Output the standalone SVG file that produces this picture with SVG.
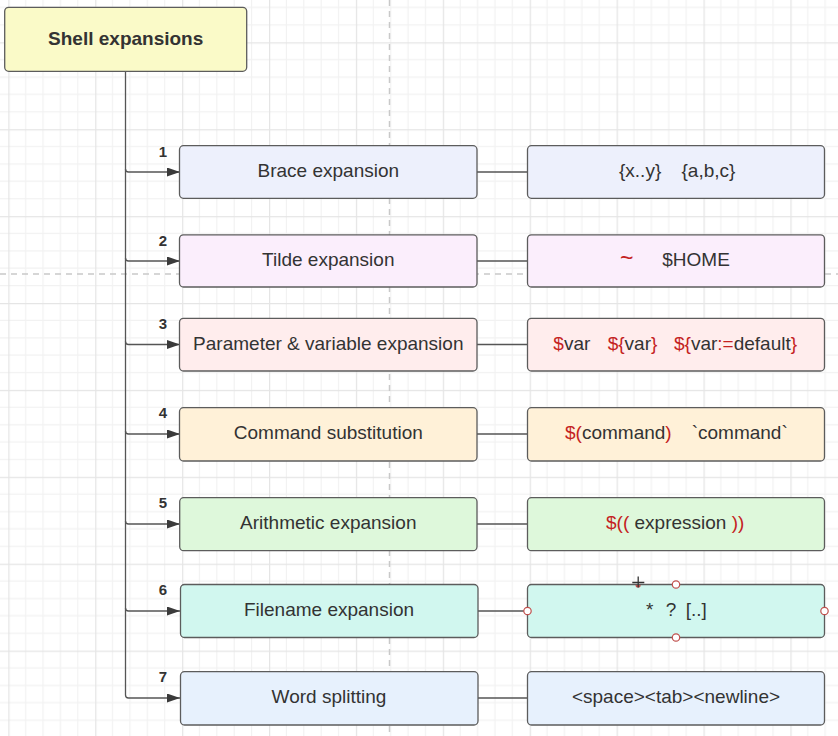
<svg xmlns="http://www.w3.org/2000/svg" width="838" height="736" viewBox="0 0 838 736">
<defs>
<pattern id="grid" patternUnits="userSpaceOnUse" x="8.3" y="42.3" width="86.9" height="86.9">
<path d="M17.38 0V86.9M34.76 0V86.9M52.14 0V86.9M69.52 0V86.9M0 17.38H86.9M0 34.76H86.9M0 52.14H86.9M0 69.52H86.9" stroke="#f2f2f2" stroke-width="1.2" fill="none"/>
<path d="M0.6 0V86.9M0 0.6H86.9" stroke="#e5e5e5" stroke-width="1.3" fill="none"/>
</pattern>
<marker id="arr" viewBox="0 0 13 9" refX="13" refY="4.5" markerWidth="13" markerHeight="9" markerUnits="userSpaceOnUse" orient="auto">
<path d="M0 0L13 4.5L0 9Z" fill="#3a3a3a"/>
</marker>
</defs>
<style>
.box{stroke:#5c5c5c;stroke-width:1.3}
.t{font-family:"Liberation Sans",Arial,sans-serif;font-size:19px;fill:#333}
.c{text-anchor:middle}
.r{fill:#c42222}
.n{font-family:"Liberation Sans",Arial,sans-serif;font-size:15px;font-weight:bold;fill:#333;text-anchor:middle}
.ln{stroke:#555;stroke-width:1.3;fill:none}
.dash{stroke:#c9c9c9;stroke-width:1.5;stroke-dasharray:6 5;fill:none}
.h{fill:#fff;stroke:#c0504d;stroke-width:1.2}
</style>
<rect width="838" height="736" fill="#fff"/>
<rect width="838" height="736" fill="url(#grid)"/>
<path class="dash" d="M389.5 0V736"/>
<path class="dash" d="M0 274H838"/>

<g id="connectors">
<path class="ln" d="M125.5 71.3V695a3 3 0 0 0 3 3H180" marker-end="url(#arr)"/>
<path class="ln" d="M125.5 169a3 3 0 0 0 3 3H180" marker-end="url(#arr)"/>
<path class="ln" d="M125.5 258a3 3 0 0 0 3 3H180" marker-end="url(#arr)"/>
<path class="ln" d="M125.5 341.5a3 3 0 0 0 3 3H180" marker-end="url(#arr)"/>
<path class="ln" d="M125.5 431a3 3 0 0 0 3 3H180" marker-end="url(#arr)"/>
<path class="ln" d="M125.5 521a3 3 0 0 0 3 3H180" marker-end="url(#arr)"/>
<path class="ln" d="M125.5 608a3 3 0 0 0 3 3H180" marker-end="url(#arr)"/>
<path class="ln" d="M477 172H528M477 261H528M477 344.5H528M477 434H528M477 524H528M477 611H528M477 698H528"/>
<text class="n" x="163" y="156.5">1</text>
<text class="n" x="163" y="245.5">2</text>
<text class="n" x="163" y="329">3</text>
<text class="n" x="163" y="418">4</text>
<text class="n" x="163" y="507.5">5</text>
<text class="n" x="163" y="595">6</text>
<text class="n" x="163" y="682">7</text>
</g>

<g id="title">
<rect class="box" x="4.7" y="7.3" width="242" height="64" rx="4" fill="#fafac8"/>
<text class="t c" x="125.7" y="45" font-weight="bold">Shell expansions</text>
</g>

<g id="brace">
<rect class="box" x="179.5" y="145.7" width="297.5" height="52.6" rx="4" fill="#edf0fc"/>
<text class="t c" x="328.3" y="177">Brace expansion</text>
</g>
<g id="brace-ex">
<rect class="box" x="527.5" y="145.7" width="297" height="52.6" rx="4" fill="#edf0fc"/>
<text class="t" y="177"><tspan x="619">{x..y}</tspan><tspan x="681.5">{a,b,c}</tspan></text>
</g>

<g id="tilde">
<rect class="box" x="179.5" y="234.8" width="297.5" height="52.2" rx="4" fill="#fbeefc"/>
<text class="t c" x="328.3" y="266">Tilde expansion</text>
</g>
<g id="tilde-ex">
<rect class="box" x="527.5" y="234.8" width="297" height="52.2" rx="4" fill="#fbeefc"/>
<text class="t" y="266"><tspan class="r" x="620" font-size="23px">~</tspan><tspan x="662.3">$HOME</tspan></text>
</g>

<g id="param">
<rect class="box" x="179.5" y="318.3" width="297.5" height="52.7" rx="4" fill="#ffeded"/>
<text class="t c" x="328.3" y="349.5">Parameter &amp; variable expansion</text>
</g>
<g id="param-ex">
<rect class="box" x="527.5" y="318.3" width="297" height="52.7" rx="4" fill="#ffeded"/>
<text class="t" y="349.5"><tspan x="553.3"><tspan class="r">$</tspan>var</tspan><tspan x="607.7"><tspan class="r">${</tspan>var<tspan class="r">}</tspan></tspan><tspan x="674"><tspan class="r">${</tspan>var<tspan class="r">:=</tspan>default<tspan class="r">}</tspan></tspan></text>
</g>

<g id="cmd">
<rect class="box" x="179.5" y="407.7" width="297.5" height="53.3" rx="4" fill="#fff1d8"/>
<text class="t c" x="328.3" y="439">Command substitution</text>
</g>
<g id="cmd-ex">
<rect class="box" x="527.5" y="407.7" width="297" height="53.3" rx="4" fill="#fff1d8"/>
<text class="t" y="439"><tspan x="565"><tspan class="r">$(</tspan>command<tspan class="r">)</tspan></tspan><tspan x="691.7">`command`</tspan></text>
</g>

<g id="arith">
<rect class="box" x="179.7" y="497.7" width="297.3" height="53" rx="4" fill="#def8db"/>
<text class="t c" x="328.3" y="529">Arithmetic expansion</text>
</g>
<g id="arith-ex">
<rect class="box" x="527.5" y="497.7" width="297" height="53" rx="4" fill="#def8db"/>
<text class="t" x="606" y="529"><tspan class="r">$((</tspan> expression <tspan class="r">))</tspan></text>
</g>

<g id="filename">
<rect class="box" x="180.5" y="584.5" width="297.5" height="53" rx="4" fill="#d1f7ef"/>
<text class="t c" x="329" y="616">Filename expansion</text>
</g>
<g id="filename-ex">
<rect class="box" x="527.5" y="584.5" width="297" height="53" rx="4" fill="#d1f7ef"/>
<text class="t" y="616"><tspan x="646">*</tspan><tspan x="665.7">?</tspan><tspan x="685.7">[..]</tspan></text>
<circle class="h" cx="676" cy="584.5" r="3.7"/>
<circle class="h" cx="527.5" cy="611" r="3.7"/>
<circle class="h" cx="824.5" cy="611" r="3.7"/>
<circle class="h" cx="676" cy="637.5" r="3.7"/>
<path d="M635.5 585a2.6 2.6 0 0 0 5.2 0Z" fill="#c0504d"/>
<path d="M638.2 576.5V587.5M632.3 582.5H644.3" stroke="#333" stroke-width="1.3" fill="none"/>
</g>

<g id="word">
<rect class="box" x="180.5" y="671.7" width="297.5" height="53.3" rx="4" fill="#e7f1fd"/>
<text class="t c" x="329" y="703">Word splitting</text>
</g>
<g id="word-ex">
<rect class="box" x="527.5" y="671.7" width="297" height="53.3" rx="4" fill="#e7f1fd"/>
<text class="t c" x="676" y="703">&lt;space&gt;&lt;tab&gt;&lt;newline&gt;</text>
</g>
</svg>
